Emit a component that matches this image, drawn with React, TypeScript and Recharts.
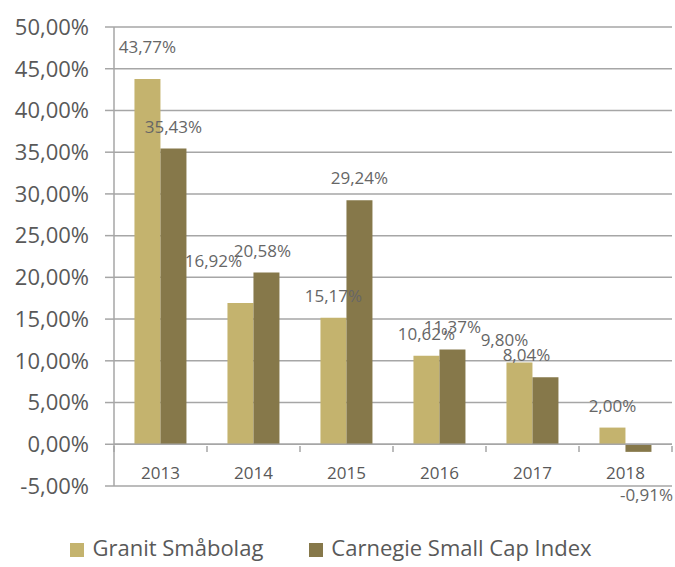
import React from 'react';
import { BarChart, Bar, XAxis, YAxis, CartesianGrid, Legend, ReferenceLine, LabelList } from 'recharts';

const years = ['2013', '2014', '2015', '2016', '2017', '2018'];
const granit = [43.77, 16.92, 15.17, 10.62, 9.8, 2.0];
const carnegie = [35.43, 20.58, 29.24, 11.37, 8.04, -0.91];
const yTicks = [-5, 0, 5, 10, 15, 20, 25, 30, 35, 40, 45, 50];

// label nudges (relative offsets from the default spot above each bar)
const granitLabelDx = [0, -27, 0, 0, -15, 0];
const granitLabelDy = [-10, -20, 0, 0, 0, 0];
const carnegieLabelDx = [0, -4, 0, 0, -19, 8];
const carnegieLabelDy = [0, 0, 0, 0, 0, 0];

const data = years.map((y, i) => ({ year: y, granit: granit[i], carnegie: carnegie[i] }));

const FONT = '"Open Sans", "Noto Sans", sans-serif';
const TEXT = '#595959';
const GRID = '#a6a6a6';
const LIGHT = '#c4b36e';
const DARK = '#86784a';

const fmt = (v: number) => v.toFixed(2).replace('.', ',') + '%';

const XTick = (props: any) => {
  const { x, y, payload, width, visibleTicksCount, index } = props;
  const band = width && visibleTicksCount ? width / visibleTicksCount : 0;
  const zeroY = y - 48;
  return (
    <g>
      {band > 0 && (
        <line x1={x - band / 2} x2={x - band / 2} y1={zeroY} y2={zeroY + 6} stroke={GRID} strokeWidth={1.5} />
      )}
      {band > 0 && index === visibleTicksCount - 1 && (
        <line x1={x + band / 2} x2={x + band / 2} y1={zeroY} y2={zeroY + 6} stroke={GRID} strokeWidth={1.5} />
      )}
      <text x={x} y={y - 20} textAnchor="middle" fill={TEXT} fontSize={17} fontFamily={FONT} dominantBaseline="middle">
        {payload.value}
      </text>
    </g>
  );
};

const makeLabel = (dxs: number[], dys: number[]) => (props: any) => {
  const { x, y, width, height, value, index } = props;
  const neg = value < 0;
  const top = Math.min(y, y + height);
  const bottom = Math.max(y, y + height);
  const cx = x + width / 2 + (dxs[index] ?? 0);
  const ty = (neg ? bottom + 49 : top - 16) + (dys[index] ?? 0);
  return (
    <text x={cx} y={ty} textAnchor="middle" fill="#666666" fontSize={17} fontFamily={FONT}>
      {fmt(value)}
    </text>
  );
};

const order: Record<string, number> = { granit: 0, carnegie: 1 };

export default function App() {
  return (
    <div style={{ position: 'absolute', left: 0, top: 0, width: 675, height: 567, background: '#fff' }}>
      <BarChart
        width={675}
        height={567}
        data={data}
        margin={{ top: 27, right: 3, left: 0, bottom: 5 }}
        barGap={0}
        barCategoryGap="22%"
      >
        <CartesianGrid vertical={false} stroke={GRID} strokeWidth={1.5} />
        <XAxis dataKey="year" height={46} axisLine={false} tickLine={false} tick={<XTick />} interval={0} />
        <YAxis
          width={114}
          domain={[-5, 50]}
          ticks={yTicks}
          interval={0}
          tickFormatter={fmt}
          axisLine={{ stroke: GRID, strokeWidth: 1.5 }}
          tickLine={{ stroke: GRID, strokeWidth: 1.5 }}
          tickSize={9}
          tickMargin={16}
          tick={{ fill: TEXT, fontSize: 22, fontFamily: FONT }}
        />
        <ReferenceLine y={0} stroke={GRID} strokeWidth={1.5} />
        <Legend
          verticalAlign="bottom"
          iconType="square"
          iconSize={14}
          itemSorter={(item: any) => order[item.dataKey] ?? 0}
          wrapperStyle={{ fontFamily: FONT, fontSize: 22, color: TEXT }}
          formatter={(v: string, _e: any, i: number) => (
            <span style={{ color: TEXT, marginLeft: 4, marginRight: i === 0 ? 36 : 0 }}>{v}</span>
          )}
        />
        <Bar dataKey="granit" name="Granit Småbolag" fill={LIGHT} isAnimationActive={false}>
          <LabelList dataKey="granit" content={makeLabel(granitLabelDx, granitLabelDy)} />
        </Bar>
        <Bar dataKey="carnegie" name="Carnegie Small Cap Index" fill={DARK} isAnimationActive={false}>
          <LabelList dataKey="carnegie" content={makeLabel(carnegieLabelDx, carnegieLabelDy)} />
        </Bar>
      </BarChart>
    </div>
  );
}
